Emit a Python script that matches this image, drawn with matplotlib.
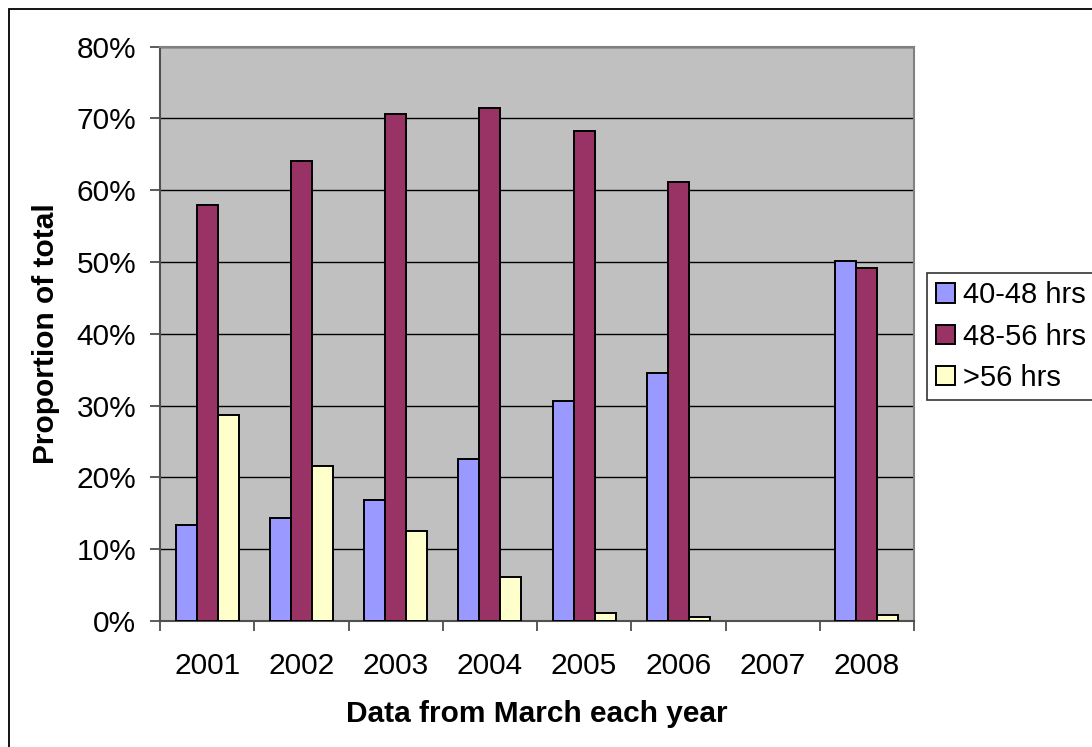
import numpy as np
import matplotlib
matplotlib.use("Agg")
import matplotlib.pyplot as plt
from matplotlib.patches import Rectangle
from matplotlib.ticker import FixedLocator

plt.rcParams['font.family'] = ['Liberation Sans', 'DejaVu Sans']

years = ["2001", "2002", "2003", "2004", "2005", "2006", "2007", "2008"]
hrs_40_48 = [13.4, 14.3, 16.8, 22.6, 30.6, 34.6, np.nan, 50.2]
hrs_48_56 = [57.9, 64.1, 70.6, 71.4, 68.3, 61.1, np.nan, 49.1]
hrs_56_up = [28.7, 21.6, 12.6, 6.1, 1.1, 0.5, np.nan, 0.8]
series_names = ["40-48 hrs", "48-56 hrs", ">56 hrs"]
colors = ["#9999FF", "#993366", "#FFFFCC"]

W, H = 1092, 747
fig = plt.figure(figsize=(W / 100, H / 100), dpi=100)
fig.patch.set_facecolor("white")

# chart-area border (runs off the right and bottom)
fig.patches.append(Rectangle((9 / W, -0.1), 1.2, (H - 9) / H + 0.1,
                             transform=fig.transFigure, fill=False,
                             edgecolor="black", linewidth=1.3, zorder=0))

ax = fig.add_axes([160 / W, 1 - 621 / H, (914 - 160) / W, (621 - 46.5) / H])
ax.set_facecolor("#C0C0C0")

x = np.arange(len(years))
bw = 0.222
handles = []
for k, (vals, c, name) in enumerate(zip([hrs_40_48, hrs_48_56, hrs_56_up], colors, series_names)):
    b = ax.bar(x + (k - 1) * bw, vals, width=bw, color=c, edgecolor="black",
               linewidth=1.4, label=name, zorder=3)
    handles.append(b)

ax.set_xlim(-0.5, len(years) - 0.5)
ax.set_ylim(0, 80)
ax.set_yticks(np.arange(0, 81, 10))
ax.set_yticklabels([f"{v}%" for v in range(0, 81, 10)])
ax.yaxis.grid(True, color="black", linewidth=1.0, zorder=1)
ax.set_axisbelow(True)

ax.set_xticks(x)
ax.set_xticklabels(years)
ax.xaxis.set_minor_locator(FixedLocator(np.arange(-0.5, len(years), 1.0)))
ax.tick_params(axis="x", which="major", length=0, pad=22, labelsize=21.5)
ax.tick_params(axis="x", which="minor", length=7, width=1.2, color="#404040")
ax.tick_params(axis="y", length=7, width=1.2, color="#404040", pad=10, labelsize=21.5)

for side in ["left", "bottom"]:
    ax.spines[side].set_color("#505050")
    ax.spines[side].set_linewidth(1.5)
for side in ["top", "right"]:
    ax.spines[side].set_color("#808080")
    ax.spines[side].set_linewidth(1.5)

ax.set_xlabel("Data from March each year", fontsize=21.5, fontweight="bold", labelpad=15)
ax.set_ylabel("Proportion of total", fontsize=21.5, fontweight="bold", labelpad=12)

leg = fig.legend(handles=handles, labels=series_names, loc="upper left",
                 bbox_to_anchor=(927 / W, 1 - 272.7 / H), fontsize=21,
                 frameon=True, fancybox=False, edgecolor="black",
                 handlelength=0.65, handleheight=0.65, handletextpad=0.28,
                 labelspacing=0.45, borderpad=0.3, borderaxespad=0)
leg.get_frame().set_linewidth(1.2)

fig.savefig("out.png", dpi=100)
